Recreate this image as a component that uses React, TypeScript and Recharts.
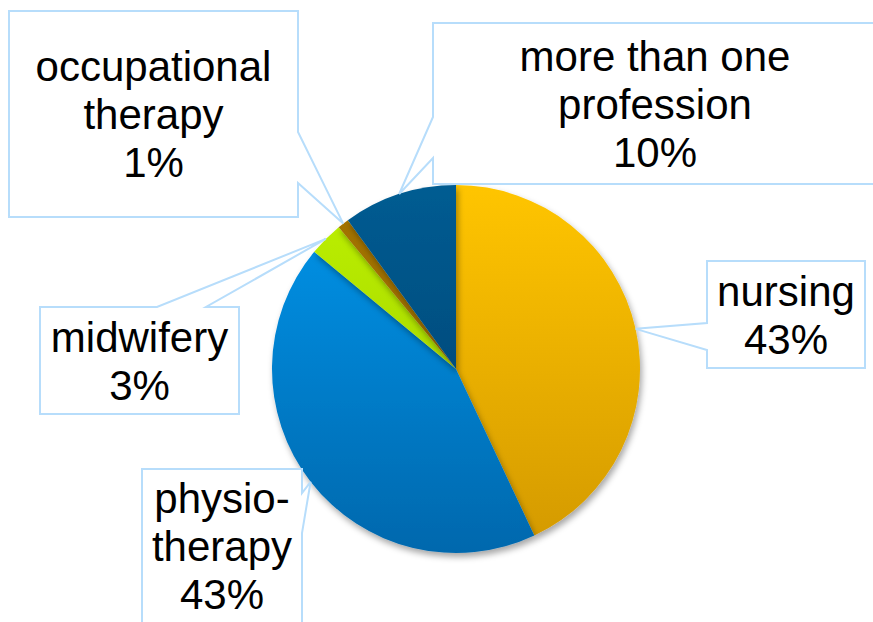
import { PieChart, Pie, Cell } from 'recharts'

const professions = ['nursing', 'physiotherapy', 'midwifery', 'occupational therapy', 'more than one profession']
const shares = [43, 43, 3, 1, 10]
const labelLines = [
  ['nursing', '43%'],
  ['physio-', 'therapy', '43%'],
  ['midwifery', '3%'],
  ['occupational', 'therapy', '1%'],
  ['more than one', 'profession', '10%'],
]
const gradients = [
  ['#FFC502', '#D39900'],
  ['#0096EC', '#0068AD'],
  ['#BEF200', '#98C600'],
  ['#A47400', '#946600'],
  ['#005C92', '#003E6C'],
]

// callout boxes: rect + the edge the pointer leaves from and its base span
const callouts = [
  { x: 707, y: 261, w: 158, h: 107, side: 'left', a: 323, b: 350 },
  { x: 142, y: 469, w: 160, h: 200, side: 'right', a: 493, b: 533 },
  { x: 40, y: 307, w: 199, h: 107, side: 'top', a: 157, b: 206 },
  { x: 9, y: 11, w: 289, h: 206, side: 'right', a: 132, b: 183 },
  { x: 433, y: 23, w: 444, h: 161, side: 'left', a: 117, b: 158 },
]

const data = professions.map((name, i) => ({ name, value: shares[i] }))

const RAD = Math.PI / 180
const FONT = 42
const LINE = 48

function calloutPath(c: any, tx: number, ty: number) {
  const { x, y, w, h, side, a, b } = c
  const r = x + w
  const btm = y + h
  if (side === 'left') {
    return `M${x},${y} L${r},${y} L${r},${btm} L${x},${btm} L${x},${b} L${tx},${ty} L${x},${a} Z`
  }
  if (side === 'right') {
    return `M${x},${y} L${r},${y} L${r},${a} L${tx},${ty} L${r},${b} L${r},${btm} L${x},${btm} Z`
  }
  return `M${x},${y} L${a},${y} L${tx},${ty} L${b},${y} L${r},${y} L${r},${btm} L${x},${btm} Z`
}

function renderLabel(props: any) {
  const { cx, cy, outerRadius, midAngle, index } = props
  const tx = cx + outerRadius * Math.cos(-midAngle * RAD)
  const ty = cy + outerRadius * Math.sin(-midAngle * RAD)
  const c = callouts[index]
  const lines = labelLines[index]
  const centerX = c.x + c.w / 2
  const centerY = c.y + c.h / 2
  let firstBase = centerY - ((lines.length - 1) * LINE) / 2 + FONT * 0.36
  if (index === 1) firstBase = 513
  return (
    <g key={`callout-${index}`}>
      <path d={calloutPath(c, tx, ty)} fill="#ffffff" stroke="#B7DDFB" strokeWidth={2} strokeLinejoin="miter" />
      <text
        x={centerX}
        textAnchor="middle"
        fontFamily="'Liberation Sans', Arial, sans-serif"
        fontSize={FONT}
        fill="#000000"
      >
        {lines.map((ln, j) => (
          <tspan key={j} x={centerX} y={firstBase + j * LINE}>
            {ln}
          </tspan>
        ))}
      </text>
    </g>
  )
}

export default function App() {
  return (
    <div style={{ position: 'absolute', left: 0, top: 0, width: 873, height: 622, background: '#fff', overflow: 'hidden' }}>
      <PieChart width={873} height={622} margin={{ top: 0, right: 0, bottom: 0, left: 0 }}>
        <defs>
          {gradients.map(([top, bottom], i) => (
            <linearGradient key={i} id={`grad-${i}`} gradientUnits="userSpaceOnUse" x1={0} y1={185} x2={0} y2={553}>
              <stop offset="0%" stopColor={top} />
              <stop offset="100%" stopColor={bottom} />
            </linearGradient>
          ))}
          <filter id="pie-shadow" x="-20%" y="-20%" width="140%" height="140%">
            <feDropShadow dx={2} dy={4} stdDeviation={3} floodColor="#000" floodOpacity={0.35} />
          </filter>
        </defs>
        <Pie
          data={data}
          dataKey="value"
          nameKey="name"
          cx={456}
          cy={369}
          outerRadius={184}
          startAngle={90}
          endAngle={-270}
          stroke="none"
          label={renderLabel}
          labelLine={false}
          isAnimationActive={false}
          style={{ filter: 'url(#pie-shadow)' }}
        >
          {data.map((d, i) => (
            <Cell key={d.name} fill={`url(#grad-${i})`} />
          ))}
        </Pie>
      </PieChart>
    </div>
  )
}
